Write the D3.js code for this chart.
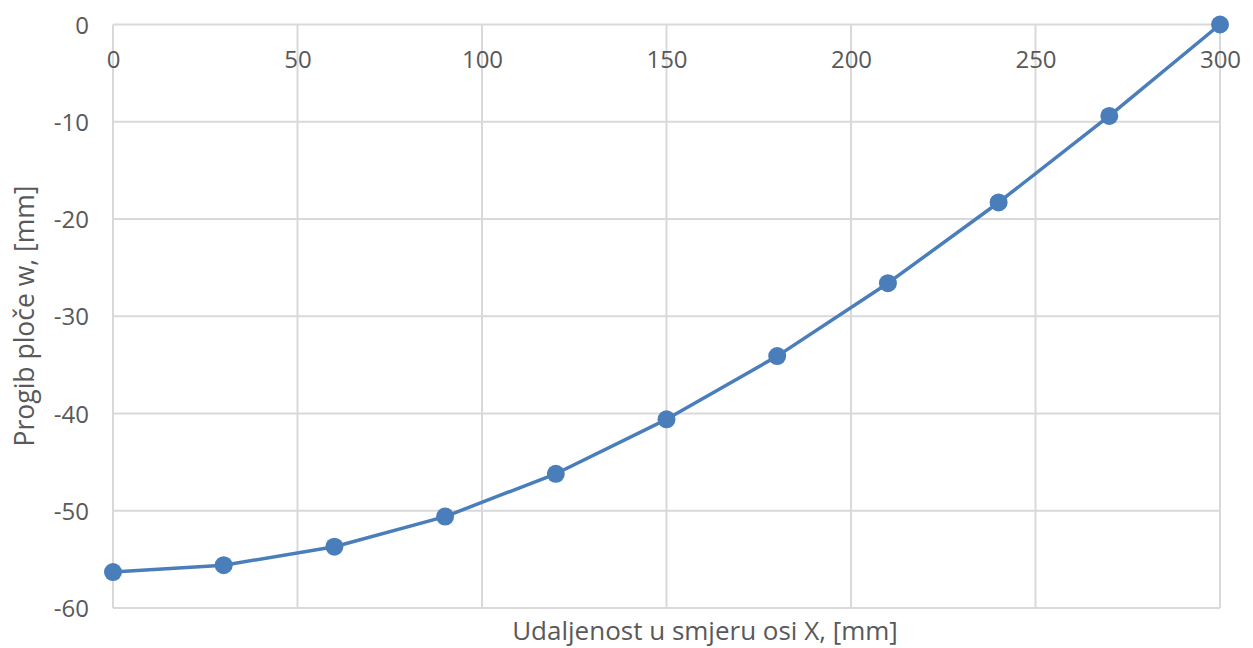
<!DOCTYPE html>
<html><head><meta charset="utf-8">
<script src="https://cdn.jsdelivr.net/npm/d3@7"></script>
<style>body{margin:0;background:#fff;} text{font-family:"Open Sans","Liberation Sans",sans-serif;fill:#595959;}</style>
</head><body><svg id="c" width="1253" height="648"></svg>
<script>
const xValues = [0, 30, 60, 90, 120, 150, 180, 210, 240, 270, 300];
const wValues = [-56.3, -55.6, -53.7, -50.6, -46.2, -40.6, -34.1, -26.6, -18.3, -9.4, 0];
const xTicks = [0, 50, 100, 150, 200, 250, 300];
const yTicks = [0, -10, -20, -30, -40, -50, -60];
const xTitle = "Udaljenost u smjeru osi X, [mm]";
const yTitle = "Progib ploče w, [mm]";

const svg = d3.select("#c");
const L = 113, R = 1220, T = 24.5, B = 608;
const x = d3.scaleLinear().domain([0, 300]).range([L, R]);
const y = d3.scaleLinear().domain([-60, 0]).range([B, T]);

const grid = svg.append("g");
grid.selectAll("line.v").data(xTicks).join("line")
  .attr("x1", d => x(d)).attr("x2", d => x(d)).attr("y1", T).attr("y2", B)
  .attr("stroke", "#d9d9d9").attr("stroke-width", 2);
grid.selectAll("line.h").data(yTicks).join("line")
  .attr("x1", L).attr("x2", R).attr("y1", d => y(d)).attr("y2", d => y(d))
  .attr("stroke", "#d9d9d9").attr("stroke-width", 2);

// y axis labels
const yAxis = d3.axisLeft(y).tickValues(yTicks).tickSize(0).tickPadding(0).tickFormat(d => String(d));
const gy = svg.append("g").attr("transform", `translate(${L - 24},0)`).call(yAxis);
gy.select(".domain").remove();
gy.selectAll("text").attr("font-size", 24).attr("fill", "#595959").attr("dy", "0.36em");

// x axis labels (axis crosses at y=0, labels below it)
const xAxis = d3.axisBottom(x).tickValues(xTicks).tickSize(0).tickPadding(0);
const gx = svg.append("g").attr("transform", `translate(0,68)`).call(xAxis);
gx.select(".domain").remove();
gx.selectAll("text").attr("font-size", 24).attr("fill", "#595959").attr("y", 0).attr("dy", 0);

// titles
svg.append("text").attr("x", 705).attr("y", 640).attr("text-anchor", "middle")
  .attr("font-size", 26).text(xTitle);
svg.append("text").attr("transform", `translate(34,316) rotate(-90)`)
  .attr("text-anchor", "middle").attr("font-size", 26.5).text(yTitle);

const color = "#4a7ebb";
const line = d3.line().x((d, i) => x(xValues[i])).y(d => y(d));
svg.append("path").datum(wValues).attr("d", line).attr("fill", "none")
  .attr("stroke", color).attr("stroke-width", 3.5).attr("stroke-linejoin", "round");
svg.selectAll("circle").data(wValues).join("circle")
  .attr("cx", (d, i) => x(xValues[i])).attr("cy", d => y(d)).attr("r", 9).attr("fill", color);
</script></body></html>
